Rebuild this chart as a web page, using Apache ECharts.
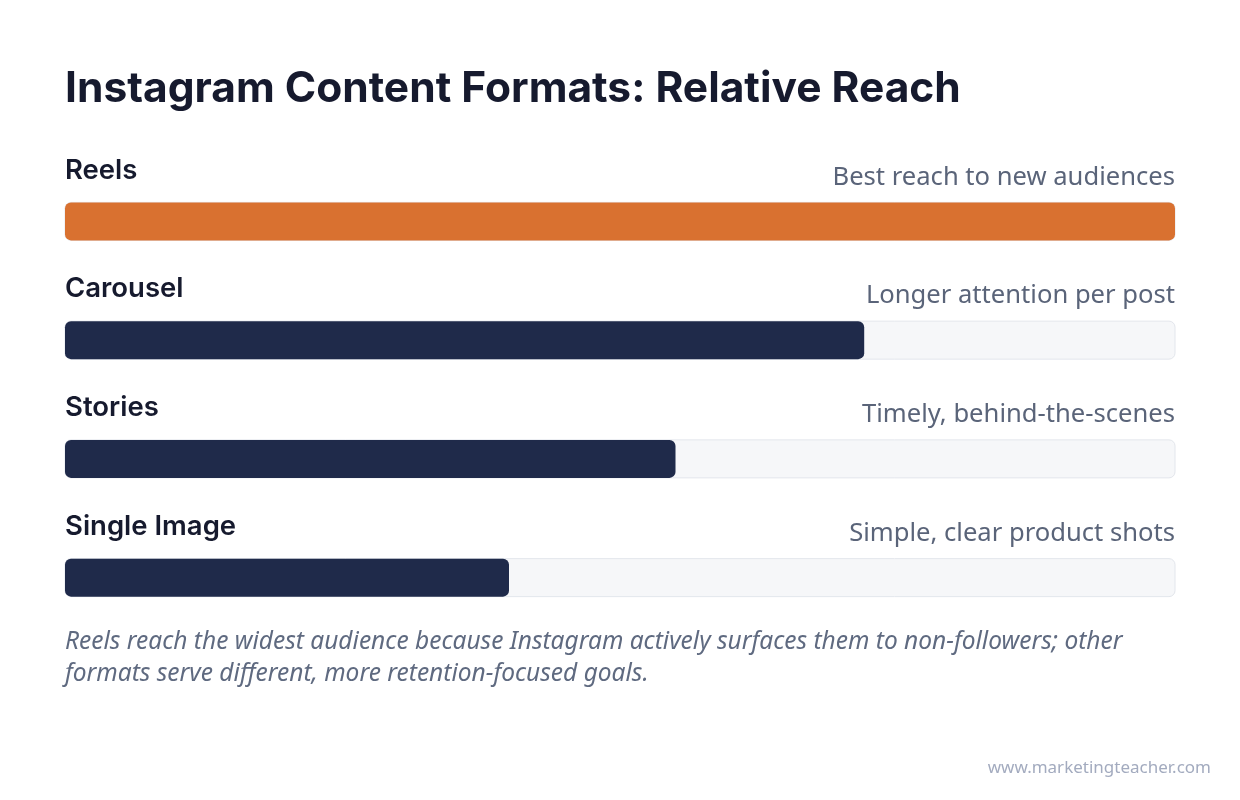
<!DOCTYPE html>
<html><head><meta charset="utf-8">
<script src="https://cdn.jsdelivr.net/npm/echarts@6/dist/echarts.min.js"></script>
<style>html,body{margin:0;padding:0;background:#fff}#c{width:1240px;height:800px}</style>
</head><body><div id="c"></div>
<script>
const categories = ['Reels', 'Carousel', 'Stories', 'Single Image'];
const reachValues = [100, 72, 55, 40];
const descriptions = ['Best reach to new audiences', 'Longer attention per post', 'Timely, behind-the-scenes', 'Simple, clear product shots'];
const barColors = ['#d97130', '#1f2a4a', '#1f2a4a', '#1f2a4a'];
const titleText = 'Instagram Content Formats: Relative Reach';
const noteText = 'Reels reach the widest audience because Instagram actively surfaces them to non-followers; other\nformats serve different, more retention-focused goals.';
const sourceText = 'www.marketingteacher.com';

const chart = echarts.init(document.getElementById('c'), null, {renderer: 'canvas'});
chart.setOption({
  backgroundColor: '#ffffff',
  animation: false,
  title: {
    text: titleText, left: 60, top: 63,
    textStyle: {fontFamily: 'Inter', fontWeight: 700, fontSize: 42.5, color: '#161a2e'}
  },
  grid: {left: 65, right: 65, top: 162, bottom: 163},
  xAxis: {type: 'value', min: 0, max: 100, show: false},
  yAxis: {type: 'category', data: categories, inverse: true, show: false},
  series: [
    {
      type: 'bar', barWidth: 38, barGap: '-100%',
      data: reachValues.map((v, i) => ({value: v, itemStyle: {color: barColors[i]}})),
      itemStyle: {borderRadius: 6},
      showBackground: true,
      backgroundStyle: {color: '#f6f7f9', borderColor: '#e3e6ec', borderWidth: 1, borderRadius: 6},
      label: {
        show: true, position: [0, -32], align: 'left', verticalAlign: 'middle',
        formatter: p => p.name,
        fontFamily: 'Inter', fontWeight: 600, fontSize: 27.5, color: '#161a2e'
      },
      z: 2
    },
    {
      type: 'bar', barWidth: 38, barGap: '-100%', silent: true,
      data: categories.map(() => 100),
      itemStyle: {color: 'rgba(0,0,0,0)'},
      label: {
        show: true, position: ['100%', -25], align: 'right', verticalAlign: 'middle',
        formatter: p => descriptions[p.dataIndex],
        fontFamily: 'Noto Sans', fontWeight: 400, fontSize: 25.6, color: '#5a6479'
      },
      z: 3
    }
  ],
  graphic: [
    {
      type: 'text', left: 65, top: 626,
      style: {text: noteText, fontFamily: 'Noto Sans', fontStyle: 'italic', fontSize: 24.5, lineHeight: 32, fill: '#5f6a80'}
    },
    {
      type: 'text', right: 29, top: 760,
      style: {text: sourceText, fontFamily: 'Noto Sans', fontSize: 17, fill: '#a3abbf'}
    }
  ]
});
</script></body></html>
